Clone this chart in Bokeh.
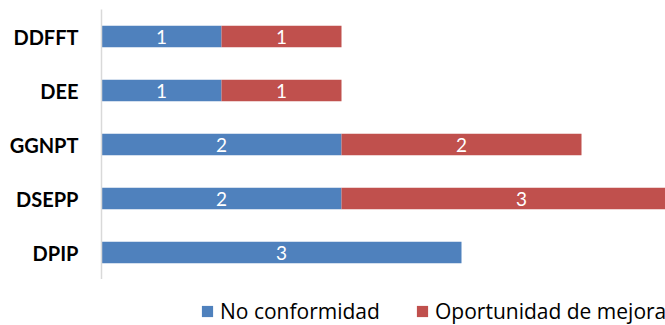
from bokeh.plotting import figure
from bokeh.layouts import column
from bokeh.models import (ColumnDataSource, FactorRange, Range1d, LabelSet,
                          Legend, LegendItem)
from bokeh.core.properties import value
from bokeh.embed import file_html
from bokeh.resources import INLINE

# Findings per unit
units = ["DDFFT", "DEE", "GGNPT", "DSEPP", "DPIP"]
no_conformidad = [1, 1, 2, 2, 3]
oportunidad_mejora = [1, 1, 2, 3, 0]
series_names = ["No conformidad", "Oportunidad de mejora"]
colors = ["#4F81BD", "#C0504D"]

FONT = "Lato"
LEGEND_FONT = "Open Sans"

nc_start = [0] * len(units)
nc_end = list(no_conformidad)
om_start = nc_end
om_end = [a + b for a, b in zip(no_conformidad, oportunidad_mejora)]

src = ColumnDataSource(dict(
    unit=units,
    nc_start=nc_start, nc_end=nc_end,
    om_start=om_start, om_end=om_end,
    nc_mid=[(s + e) / 2 for s, e in zip(nc_start, nc_end)],
    om_mid=[(s + e) / 2 for s, e in zip(om_start, om_end)],
    nc_txt=[str(v) for v in no_conformidad],
    om_txt=[str(v) if v else "" for v in oportunidad_mejora],
))

p = figure(
    width=665, height=279,
    y_range=FactorRange(*reversed(units)),
    x_range=Range1d(0, 4.7),
    output_backend="svg", toolbar_location=None,
    min_border_left=101, min_border_right=0,
    min_border_top=9, min_border_bottom=0,
)
p.outline_line_color = None
p.xgrid.visible = False
p.ygrid.visible = False
p.xaxis.visible = False

ya = p.yaxis[0]
ya.axis_line_color = "#D9D9D9"
ya.axis_line_width = 1.5
ya.major_tick_line_color = None
ya.minor_tick_line_color = None
ya.major_label_text_font = FONT
ya.major_label_text_font_style = "bold"
ya.major_label_text_font_size = "20px"
ya.major_label_text_color = "#000000"
ya.major_label_standoff = 17

p.hbar(y="unit", left="nc_start", right="nc_end", height=0.4,
       source=src, fill_color=colors[0], line_color=None)
p.hbar(y="unit", left="om_start", right="om_end", height=0.4,
       source=src, fill_color=colors[1], line_color=None)

for xcol, tcol in (("nc_mid", "nc_txt"), ("om_mid", "om_txt")):
    p.add_layout(LabelSet(
        x=xcol, y="unit", text=tcol, source=src,
        text_align="center", text_baseline="middle",
        text_color="white", text_font=value(FONT), text_font_size="19px",
    ))

# Legend strip under the chart; swatch glyphs sit outside its visible range
leg = figure(
    width=665, height=46, x_range=Range1d(0, 1), y_range=Range1d(0, 1),
    output_backend="svg", toolbar_location=None,
    min_border_left=0, min_border_right=0, min_border_top=0, min_border_bottom=0,
)
leg.outline_line_color = None
leg.axis.visible = False
leg.grid.visible = False

swatches = [leg.hbar(y=[-10], left=[-10], right=[-9], height=1,
                     fill_color=c, line_color=None)
            for c in colors]

for name, rend, xoff in ((series_names[0], swatches[0], 99),
                         (series_names[1], swatches[1], 314)):
    lg = Legend(
        items=[LegendItem(label=name, renderers=[rend])],
        location=(xoff, 0), orientation="horizontal",
        padding=0, margin=0, spacing=0,
        border_line_color=None, background_fill_alpha=0,
        glyph_width=14, glyph_height=14, label_height=14,
        label_standoff=6,
        label_text_font=LEGEND_FONT, label_text_font_size="21px",
        label_text_color="#000000",
    )
    leg.add_layout(lg, "center")

open("out.html", "w").write(file_html(column(p, leg, spacing=0), INLINE))
